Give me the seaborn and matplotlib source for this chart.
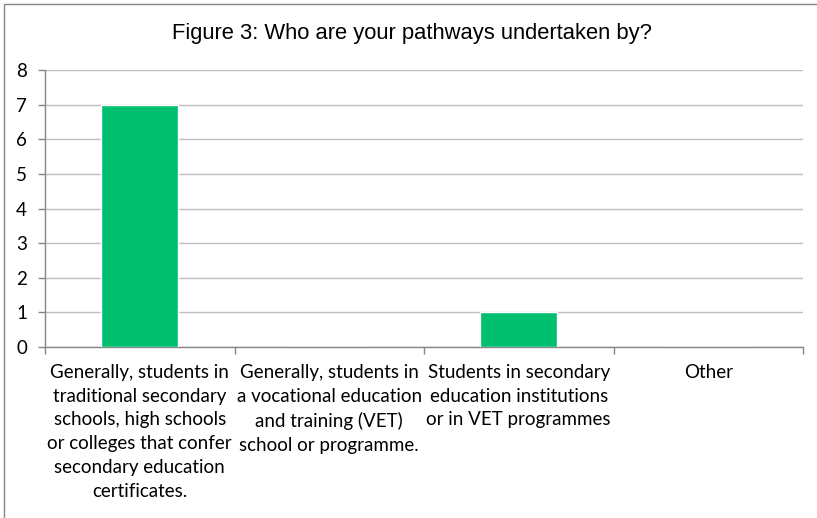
import matplotlib
matplotlib.use("Agg")
import matplotlib.pyplot as plt
import seaborn as sns
import pandas as pd
from matplotlib.patches import Rectangle

categories = [
    "Generally, students in\ntraditional secondary\nschools, high schools\nor colleges that confer\nsecondary education\ncertificates.",
    "Generally, students in\na vocational education\nand training (VET)\nschool or programme.",
    "Students in secondary\neducation institutions\nor in VET programmes",
    "Other",
]
counts = [7, 0, 1, 0]
y_ticks = [0, 1, 2, 3, 4, 5, 6, 7, 8]
title = "Figure 3: Who are your pathways undertaken by?"

df = pd.DataFrame({"category": categories, "count": counts})

sns.set_theme(style="white")
plt.rcParams["font.family"] = ["Lato", "DejaVu Sans"]

fig = plt.figure(figsize=(8.17, 5.18), dpi=100)
ax = fig.add_axes([45 / 817, 1 - 347 / 518, (803 - 45) / 817, (347 - 70) / 518])

sns.barplot(data=df, x="category", y="count", color="#00BF6F", width=0.405,
            saturation=1, ax=ax, zorder=3)

ax.set_ylim(0, 8)
ax.set_xlim(-0.5, len(categories) - 0.5)
ax.set_yticks(y_ticks)
ax.set_yticklabels([str(v) for v in y_ticks], fontsize=13.5, color="#000000")
ax.yaxis.grid(True, color="#BEBEBE", linewidth=1.0, zorder=0)
ax.set_axisbelow(True)

# category boundary ticks on the x axis
ax.set_xticks([i + 0.5 for i in range(-1, len(categories))], minor=False)
ax.set_xticklabels([""] * (len(categories) + 1))
ax.set_xticks(range(len(categories)), minor=True)
ax.set_xticklabels(categories, minor=True, fontsize=13.5, color="#000000",
                   linespacing=1.49, va="top", ha="center")
ax.tick_params(axis="x", which="major", length=5, width=1, color="#868686",
               direction="out", bottom=True)
ax.tick_params(axis="x", which="minor", length=0, pad=12)
ax.tick_params(axis="y", length=5, width=1, color="#868686", direction="out",
               left=True, pad=8)

for side in ["top", "right"]:
    ax.spines[side].set_visible(False)
for side in ["left", "bottom"]:
    ax.spines[side].set_color("#868686")
    ax.spines[side].set_linewidth(1.0)

ax.set_xlabel("")
ax.set_ylabel("")

fig.text(0.5 * (172 + 653) / 817, 1 - 34 / 518, title, ha="center", va="center",
         fontsize=15.8, family=["Liberation Sans", "DejaVu Sans"], color="#000000")

# chart frame
fig.patches.append(Rectangle((4 / 817, -0.1), 1.2, 1 - 4 / 518 + 0.1,
                             transform=fig.transFigure, fill=False,
                             edgecolor="#868686", linewidth=1.0))

fig.savefig("out.png", dpi=100)
